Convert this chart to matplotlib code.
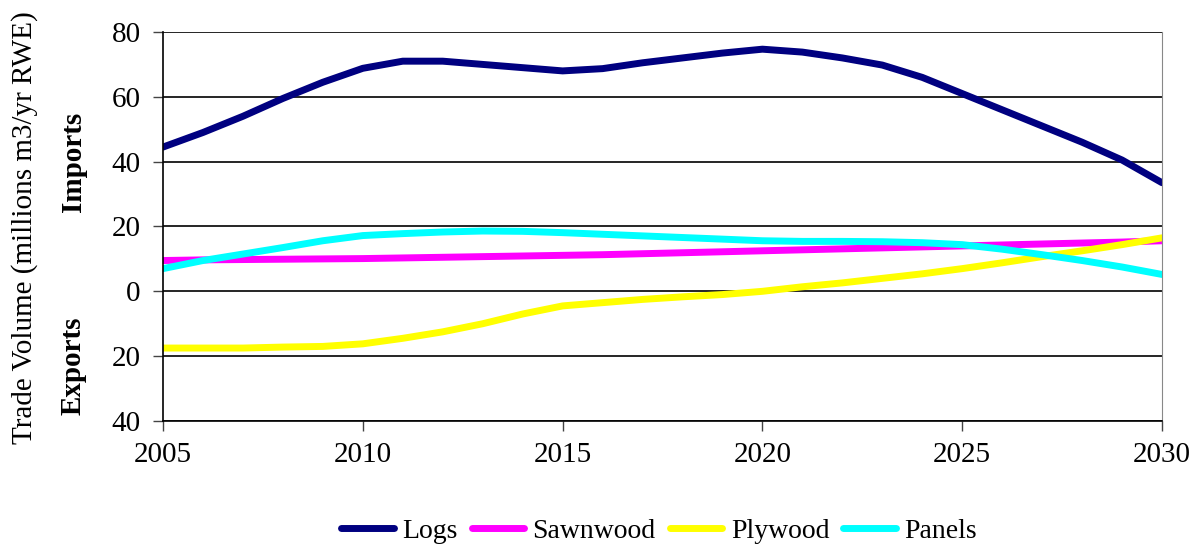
import matplotlib
matplotlib.use("Agg")
import matplotlib.pyplot as plt
from matplotlib.ticker import FuncFormatter

years = list(range(2005, 2031))

logs = [44.5, 49, 54, 59.5, 64.5, 68.8, 71, 71, 70, 69, 68, 68.7, 70.5, 72, 73.5, 74.7,
        73.8, 72, 69.8, 66, 61, 56, 51, 46, 40.5, 33.5]
sawnwood = [9.5, 9.7, 9.8, 9.9, 10, 10.1, 10.3, 10.5, 10.7, 10.9, 11.1, 11.3, 11.6, 11.9, 12.2, 12.5,
            12.8, 13.1, 13.4, 13.7, 14, 14.3, 14.6, 14.9, 15.2, 15.6]
plywood = [-17.5, -17.5, -17.5, -17.2, -17, -16.2, -14.5, -12.5, -10, -7, -4.5, -3.5, -2.5, -1.7, -1, 0,
           1.4, 2.6, 4, 5.4, 7, 8.8, 10.7, 12.5, 14.4, 16.5]
panels = [7, 9.5, 11.5, 13.5, 15.6, 17.2, 17.8, 18.3, 18.6, 18.5, 18.1, 17.6, 17.1, 16.6, 16.1, 15.6,
          15.4, 15.4, 15.3, 15, 14.4, 13, 11.3, 9.5, 7.5, 5.2]

series = [("Logs", logs, "#000080"), ("Sawnwood", sawnwood, "#ff00ff"),
          ("Plywood", plywood, "#ffff00"), ("Panels", panels, "#00ffff")]

plt.rcParams['font.family'] = ['Liberation Serif', 'DejaVu Serif']

fig = plt.figure(figsize=(11.96, 5.48), dpi=100)
ax = fig.add_axes([0.1363, 0.2318, 0.8353, 0.7098])

for name, vals, col in series:
    ax.plot(years, vals, color=col, lw=5, label=name, solid_capstyle='round')

ax.set_xlim(2005, 2030)
ax.set_ylim(-40, 80)
ax.set_xticks(range(2005, 2031, 5))
ax.set_yticks(range(-40, 81, 20))
ax.yaxis.set_major_formatter(FuncFormatter(lambda v, p: "%d" % abs(v)))
ax.grid(axis='y', color='black', lw=1.2)
ax.set_axisbelow(True)
ax.tick_params(axis='both', labelsize=21, direction='out', length=7, width=1, color='#444444')
ax.tick_params(axis='x', pad=8)
ax.tick_params(axis='y', pad=9)
ax.spines['top'].set_visible(False)
ax.spines['right'].set_color('#888888')
ax.spines['left'].set_linewidth(1.2)
ax.spines['bottom'].set_linewidth(1.2)

fig.text(25 / 1196, 1 - 228 / 548, "Trade Volume (millions m3/yr RWE)", rotation=90,
         ha='center', va='center', fontsize=21)
fig.text(73 / 1196, 1 - 162 / 548, "Imports", rotation=90, ha='center', va='center',
         fontsize=21, fontweight='bold')
fig.text(73 / 1196, 1 - 366 / 548, "Exports", rotation=90, ha='center', va='center',
         fontsize=21, fontweight='bold')

fig.legend(loc='center', bbox_to_anchor=(0.551, 1 - 531 / 548), ncol=4, frameon=False,
           fontsize=20, handlelength=1.9, handletextpad=0.3, columnspacing=0.5)

fig.savefig("out.png", dpi=100)
